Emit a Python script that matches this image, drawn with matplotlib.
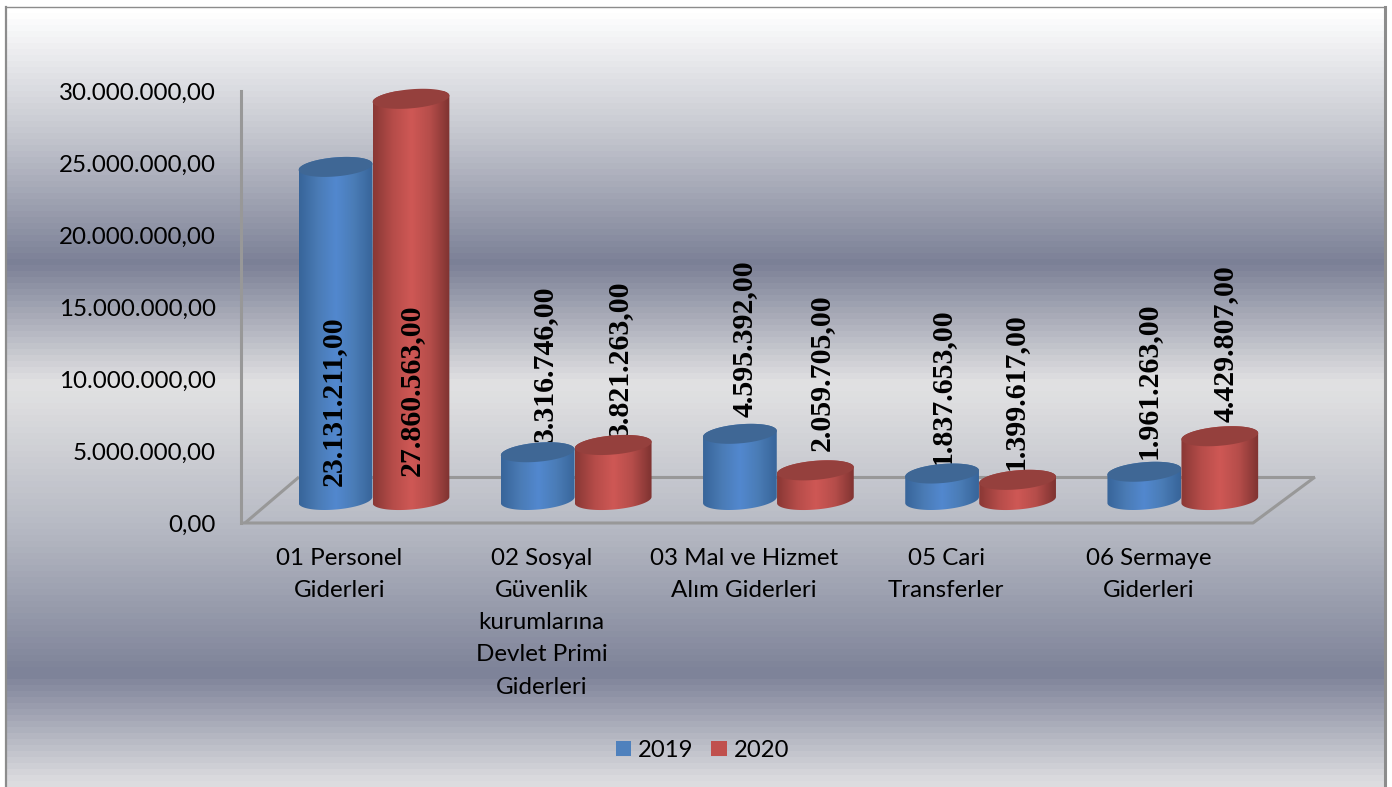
import numpy as np
import matplotlib
matplotlib.use("Agg")
import matplotlib.pyplot as plt
from matplotlib.colors import LinearSegmentedColormap
from matplotlib.patches import Patch

categories = ["01 Personel\nGiderleri",
              "02 Sosyal\nGüvenlik\nkurumlarına\nDevlet Primi\nGiderleri",
              "03 Mal ve Hizmet\nAlım Giderleri",
              "05 Cari\nTransferler",
              "06 Sermaye\nGiderleri"]
values_2019 = [23131211, 3316746, 4595392, 1837653, 1961263]
values_2020 = [27860563, 3821263, 2059705, 1399617, 4429807]
labels_2019 = ["23.131.211,00", "3.316.746,00", "4.595.392,00", "1.837.653,00", "1.961.263,00"]
labels_2020 = ["27.860.563,00", "3.821.263,00", "2.059.705,00", "1.399.617,00", "4.429.807,00"]
y_ticks = [0, 5000000, 10000000, 15000000, 20000000, 25000000, 30000000]
y_labels = ["0,00", "5.000.000,00", "10.000.000,00", "15.000.000,00",
            "20.000.000,00", "25.000.000,00", "30.000.000,00"]

W, H = 1392, 787
plt.rcParams['font.family'] = ['Lato', 'DejaVu Sans']

fig = plt.figure(figsize=(W / 100, H / 100), dpi=100, facecolor='white')

# background panel with the silver gradient
panel_l, panel_r, panel_t = 6, 1385, 7
bg = fig.add_axes([panel_l / W, 0, (panel_r - panel_l) / W, (H - panel_t) / H], zorder=0)


def stop(y):
    return (y - panel_t) / (H - panel_t)


stops = [(0.0, '#ffffff'), (stop(130), '#c5c7cf'), (stop(262), '#7b8096'), (stop(385), '#e2e2e3'),
         (stop(530), '#b6b9c3'), (stop(678), '#7d8298'), (1.0, '#dcdcdf')]
cmap = LinearSegmentedColormap.from_list('silver', stops)
bg.imshow(np.linspace(0, 1, 130).reshape(-1, 1), aspect='auto', cmap=cmap, vmin=0, vmax=1)
bg.set_xticks([])
bg.set_yticks([])
bg.spines['bottom'].set_visible(False)
bg.spines['top'].set_color('#8c8c8c')
bg.spines['top'].set_linewidth(1.0)
bg.spines['left'].set_color('#8c8c8c')
bg.spines['left'].set_linewidth(1.6)
bg.spines['right'].set_color('#8c8c8c')
bg.spines['right'].set_linewidth(2.2)

# plot axes, pixel box of the value axis
x0_px, x1_px, top_px, bot_px = 241, 1315, 91, 523
ax = fig.add_axes([x0_px / W, 1 - bot_px / H, (x1_px - x0_px) / W, (bot_px - top_px) / H], zorder=1)
ax.patch.set_alpha(0)
group_px = 202.2
first_px = 372.5
xlim = ((x0_px - first_px) / group_px, (x1_px - first_px) / group_px)
ylim = (0, 30000000)
px_per_x = group_px
px_per_y = (bot_px - top_px) / ylim[1]

depth = 23 / px_per_y       # bars stand in the middle of the floor
floor_depth = 46 / px_per_y
ell_h = 9.5                 # half height of the cap, px
tilt = np.radians(5)

blue_cm = LinearSegmentedColormap.from_list('b', ['#38659a', '#4a7bb5', '#5288cf', '#4a7cb6', '#38659a'])
red_cm = LinearSegmentedColormap.from_list('r', ['#8a3835', '#b54c49', '#cf5855', '#b54d4a', '#7f3331'])
blue_top = '#3f6795'
red_top = '#95403d'


def cap_points(xc, yc, w, t):
    # ellipse outline in data units, w is the full width in x units
    a = w * px_per_x / 2
    ex = a * np.cos(t)
    ey = ell_h * np.sin(t)
    px = ex * np.cos(tilt) - ey * np.sin(tilt)
    py = ex * np.sin(tilt) + ey * np.cos(tilt)
    return xc + px / px_per_x, yc + py / px_per_y


def cylinder(xc, w, val, cm, top_col, z):
    base = depth
    top = depth + val
    t_low = np.linspace(np.pi, 2 * np.pi, 60)
    t_up = np.linspace(0, np.pi, 60)
    bx, by = cap_points(xc, base, w, t_low)
    tx, ty = cap_points(xc, top, w, t_up)
    body = plt.Polygon(np.column_stack([np.r_[bx, tx], np.r_[by, ty]]), closed=True,
                       transform=ax.transData, fc='none', ec='none')
    ax.add_patch(body)
    im = ax.imshow(np.linspace(0, 1, 64).reshape(1, -1), cmap=cm, aspect='auto', zorder=z,
                   extent=(xc - w / 2, xc + w / 2, base - 20 / px_per_y, top + 20 / px_per_y))
    im.set_clip_path(body)
    t = np.linspace(0, 2 * np.pi, 120)
    cx, cy = cap_points(xc, top, w, t)
    ax.fill(cx, cy, color=top_col, lw=0, zorder=z + 0.1, clip_on=False)


x = np.arange(len(categories))
w_blue, w_red = 74 / group_px, 77 / group_px

# floor outline
floor_dx = 62 / px_per_x
back_x = np.array([(299 - first_px) / group_px, xlim[1]])
line = dict(color='#989898', lw=2.2, solid_capstyle='butt', zorder=1.5)
ax.plot(back_x, [floor_depth, floor_depth], **line)
ax.plot([xlim[0] + 4 / px_per_x, back_x[0]], [0, floor_depth], **line)
ax.plot([xlim[0], xlim[1] - floor_dx, xlim[1]], [0, 0, floor_depth], clip_on=False, **line)

for i in x:
    cylinder(i - w_blue / 2, w_blue, values_2019[i], blue_cm, blue_top, 3)
    cylinder(i + w_red / 2, w_red, values_2020[i], red_cm, red_top, 4)

# data labels, offsets from the bar top in px (x, y)
shift_2019 = [(-2, -319), (7, 10), (4, 17), (0, 9), (4, 13)]
shift_2020 = [(0, -377), (6, 8), (6, 19), (-2, 10), (5, 14)]
for i in x:
    for val, lab, sh, xc in ((values_2019[i], labels_2019[i], shift_2019[i], i - w_blue / 2),
                             (values_2020[i], labels_2020[i], shift_2020[i], i + w_red / 2)):
        ax.annotate(lab, (xc, depth + val), xytext=(sh[0] * 0.72, sh[1] * 0.72),
                    textcoords='offset points', rotation=90, ha='center', va='bottom',
                    family='Liberation Serif', fontweight='bold', fontsize=21.5,
                    zorder=6 if i == 0 else 2, color='black')

ax.set_xlim(*xlim)
ax.set_ylim(*ylim)
ax.set_yticks(y_ticks)
ax.set_yticklabels(y_labels, fontsize=17.4)
ax.set_xticks(x - 33 / group_px)
ax.set_xticklabels(categories, fontsize=17.4, linespacing=1.655, va='top')
ax.tick_params(axis='both', length=0)
ax.tick_params(axis='y', pad=18)
ax.tick_params(axis='x', pad=18)
for s in ('top', 'right', 'bottom'):
    ax.spines[s].set_visible(False)
ax.spines['left'].set_color('#989898')
ax.spines['left'].set_linewidth(2.2)

handles = [Patch(fc='#4f81bd', lw=0, label='2019'), Patch(fc='#c0504d', lw=0, label='2020')]
fig.legend(handles=handles, loc='center', bbox_to_anchor=(702.5 / W, 1 - 750.5 / H), ncol=2, frameon=False,
           fontsize=17.2, handlelength=0.63, handleheight=0.63, handletextpad=0.3, columnspacing=0.75)

fig.savefig('out.png', dpi=100)
